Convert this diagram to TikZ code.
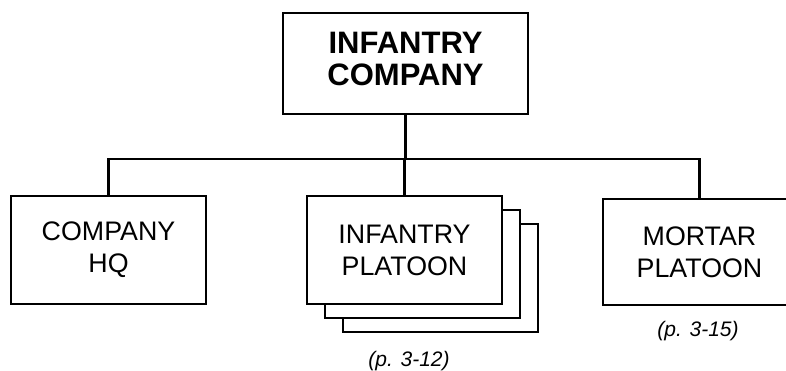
\documentclass[tikz,border=0pt]{standalone}
\usepackage{fontspec}
\setmainfont{Liberation Sans}
\begin{document}
\begin{tikzpicture}[x=1pt,y=-1pt,
  orgbox/.style={draw=black, line width=2.3pt, fill=white, align=center, inner sep=0pt},
  topbox/.style={orgbox, minimum width=245pt, minimum height=101pt,
    font=\fontsize{31}{31.5}\selectfont\bfseries},
  unitbox/.style={orgbox, minimum width=195pt, minimum height=108pt,
    font=\fontsize{26.8}{32}\selectfont},
  shadowbox/.style={draw=black, line width=2.3pt, fill=white, minimum width=195pt, minimum height=108pt, inner sep=0pt},
  conn/.style={draw=black, line width=2.1pt},
  pagelabel/.style={font=\fontsize{21}{24}\selectfont\itshape, inner sep=0pt}]
\useasboundingbox (0,0) rectangle (786,371);
\clip (0,0) rectangle (786,371);
\fill[white] (0,0) rectangle (786,371);
% top node
\node[topbox] (top) at (405.5,63.5) {INFANTRY\\COMPANY\\[-22pt]\mbox{}};
% subordinate boxes
\node[unitbox] (hq) at (108.5,250) {COMPANY\\HQ};
\node[shadowbox] (inf3) at (440.5,278) {};
\node[shadowbox] (inf2) at (422.5,264) {};
\node[unitbox] (inf) at (404.5,250) {INFANTRY\\PLATOON};
\node[unitbox, minimum width=193pt, minimum height=106pt] (mort) at (699.5,252) {MORTAR\\PLATOON};
% page labels
\node[pagelabel] (lab1) at (409,361) {(p. 3-12)};
\node[pagelabel] (lab2) at (698,331) {(p. 3-15)};
% connectors
\coordinate (bus) at (405.5,159);
\draw[conn] (top.south) -- (top.south |- bus);
\draw[conn] (hq.north) -- (hq.north |- bus) -- (mort.north |- bus) -- (mort.north);
\draw[conn] (inf.north) -- (inf.north |- bus);
\end{tikzpicture}
\end{document}
